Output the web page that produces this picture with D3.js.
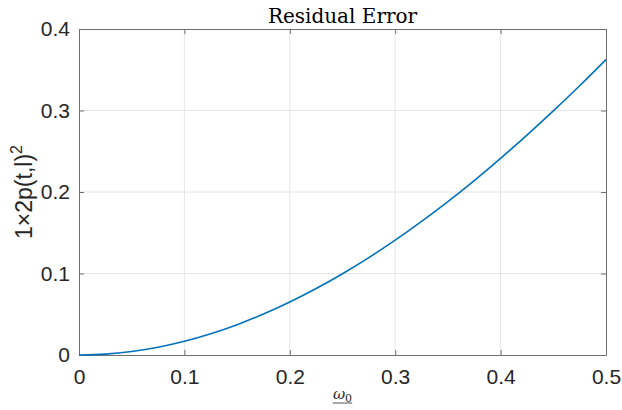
<!DOCTYPE html>
<html lang="en">
<head>
<meta charset="utf-8">
<title>Residual Error</title>
<script src="https://d3js.org/d3.v7.min.js"></script>
<style>
  body { margin: 0; background: #fff; }
  svg { display: block; }
  .tick text { font-family: Arial, "Liberation Sans", sans-serif; fill: #262626; }
</style>
</head>
<body>
<script>
// values
var omega = [0, 0.025, 0.05, 0.075, 0.1, 0.125, 0.15, 0.175, 0.2, 0.225, 0.25,
             0.275, 0.3, 0.325, 0.35, 0.375, 0.4, 0.425, 0.45, 0.475, 0.5];
var residual = [0, 0.0011, 0.0043, 0.0095, 0.0168, 0.0261, 0.0372, 0.0502, 0.0650, 0.0815, 0.0997,
                0.1195, 0.1409, 0.1639, 0.1883, 0.2141, 0.2413, 0.2698, 0.2995, 0.3304, 0.3625];
var xTicks = [0, 0.1, 0.2, 0.3, 0.4, 0.5];
var yTicks = [0, 0.1, 0.2, 0.3, 0.4];

var width = 622, height = 410;
var margin = {top: 29, right: 16, bottom: 55, left: 79};
var w = width - margin.left - margin.right,
    h = height - margin.top - margin.bottom;

var svg = d3.select("body").append("svg")
    .attr("width", width)
    .attr("height", height);

var g = svg.append("g")
    .attr("transform", "translate(" + margin.left + "," + margin.top + ")");

var x = d3.scaleLinear().domain([0, 0.5]).range([0, w]);
var y = d3.scaleLinear().domain([0, 0.4]).range([h, 0]);

// grid
g.append("g").selectAll("line")
    .data(xTicks.slice(1, -1))
    .enter().append("line")
    .attr("x1", d => x(d)).attr("x2", d => x(d))
    .attr("y1", 0).attr("y2", h)
    .attr("stroke", "#e6e6e6");
g.append("g").selectAll("line")
    .data(yTicks.slice(1, -1))
    .enter().append("line")
    .attr("x1", 0).attr("x2", w)
    .attr("y1", d => y(d)).attr("y2", d => y(d))
    .attr("stroke", "#e6e6e6");

// axes (ticks point inward like matlab)
var fmt = d => d === 0 ? "0" : d3.format(".1f")(d);
g.append("g")
    .attr("transform", "translate(0," + h + ")")
    .call(d3.axisBottom(x).tickValues(xTicks).tickFormat(fmt).tickSizeInner(-5).tickSizeOuter(0).tickPadding(14));
g.append("g")
    .call(d3.axisLeft(y).tickValues(yTicks).tickFormat(fmt).tickSizeInner(-5).tickSizeOuter(0).tickPadding(9));
g.append("g")
    .call(d3.axisTop(x).tickValues(xTicks).tickFormat("").tickSizeInner(-5).tickSizeOuter(0));
g.append("g")
    .attr("transform", "translate(" + w + ",0)")
    .call(d3.axisRight(y).tickValues(yTicks).tickFormat("").tickSizeInner(-5).tickSizeOuter(0));

g.selectAll(".domain").attr("stroke", "#6e6e6e");
g.selectAll(".tick line").attr("stroke", "#6e6e6e");
g.selectAll(".tick text").attr("font-size", 21);

// curve
var line = d3.line()
    .x((d, i) => x(omega[i]))
    .y(d => y(d))
    .curve(d3.curveMonotoneX);

g.append("path")
    .datum(residual)
    .attr("fill", "none")
    .attr("stroke", "#0072BD")
    .attr("stroke-width", 1.6)
    .attr("d", line);

// title
svg.append("text")
    .attr("x", margin.left + w / 2)
    .attr("y", 23)
    .attr("text-anchor", "middle")
    .attr("font-family", "'DejaVu Serif', serif")
    .attr("font-size", 20)
    .attr("fill", "#000")
    .text("Residual Error");

// y label
var yl = svg.append("text")
    .attr("transform", "translate(32," + (margin.top + h / 2) + ") rotate(-90)")
    .attr("text-anchor", "middle")
    .attr("font-family", "Arial, 'Liberation Sans', sans-serif")
    .attr("font-size", 23)
    .attr("fill", "#262626");
yl.append("tspan").text("1\u00d72p(t,l)");
yl.append("tspan").attr("dy", -10).attr("font-size", 16).text("2");

// x label, underlined omega_0
var xl = svg.append("text")
    .attr("x", margin.left + w / 2)
    .attr("y", 399)
    .attr("text-anchor", "middle")
    .attr("font-family", "'DejaVu Serif', serif")
    .attr("fill", "#262626");
xl.append("tspan").attr("font-style", "italic").attr("font-size", 15).text("\u03c9");
xl.append("tspan").attr("font-size", 11).attr("dy", 3).text("0");
var bb = xl.node().getBBox();
svg.append("line")
    .attr("x1", bb.x).attr("x2", bb.x + bb.width)
    .attr("y1", 403).attr("y2", 403)
    .attr("stroke", "#262626")
    .attr("stroke-width", 0.8);
</script>
</body>
</html>
